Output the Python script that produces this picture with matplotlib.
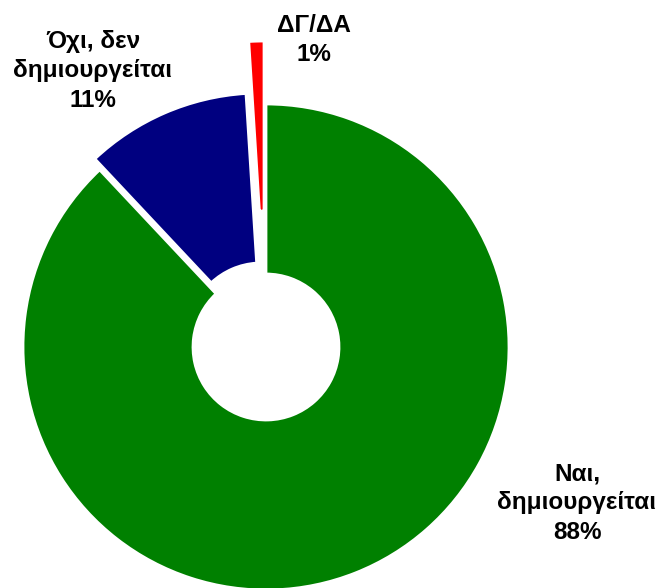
import matplotlib
matplotlib.use("Agg")
import matplotlib.pyplot as plt

labels = ["Ναι,\nδημιουργείται", "Όχι, δεν\nδημιουργείται", "ΔΓ/ΔΑ"]
values = [88, 11, 1]
colors = ["#008000", "#000080", "#FF0000"]
explode = [0, 12, 63]

plt.rcParams['font.family'] = ['Liberation Sans', 'DejaVu Sans']

fig = plt.figure(figsize=(6.61, 5.88), dpi=100)
ax = fig.add_axes([0, 0, 1, 1])

# centre and radius in pixel units (axes spans the whole figure)
cx, cy, r = 266, 241, 243
ax.pie(values, colors=colors, startangle=90, counterclock=False,
       explode=explode, center=(cx, cy), radius=r,
       wedgeprops=dict(width=r - 73, edgecolor="white", linewidth=2),
       frame=True)

label_pos = [(577, 85), (93, 517), (314, 548)]
for lab, v, (x, y) in zip(labels, values, label_pos):
    ax.text(x, y, f"{lab}\n{v}%", ha="center", va="center",
            fontsize=17.5, fontweight="bold", linespacing=1.35)

ax.set_xlim(0, 661)
ax.set_ylim(0, 588)
ax.set_aspect("equal")
ax.axis("off")

fig.savefig("out.png", dpi=100)
